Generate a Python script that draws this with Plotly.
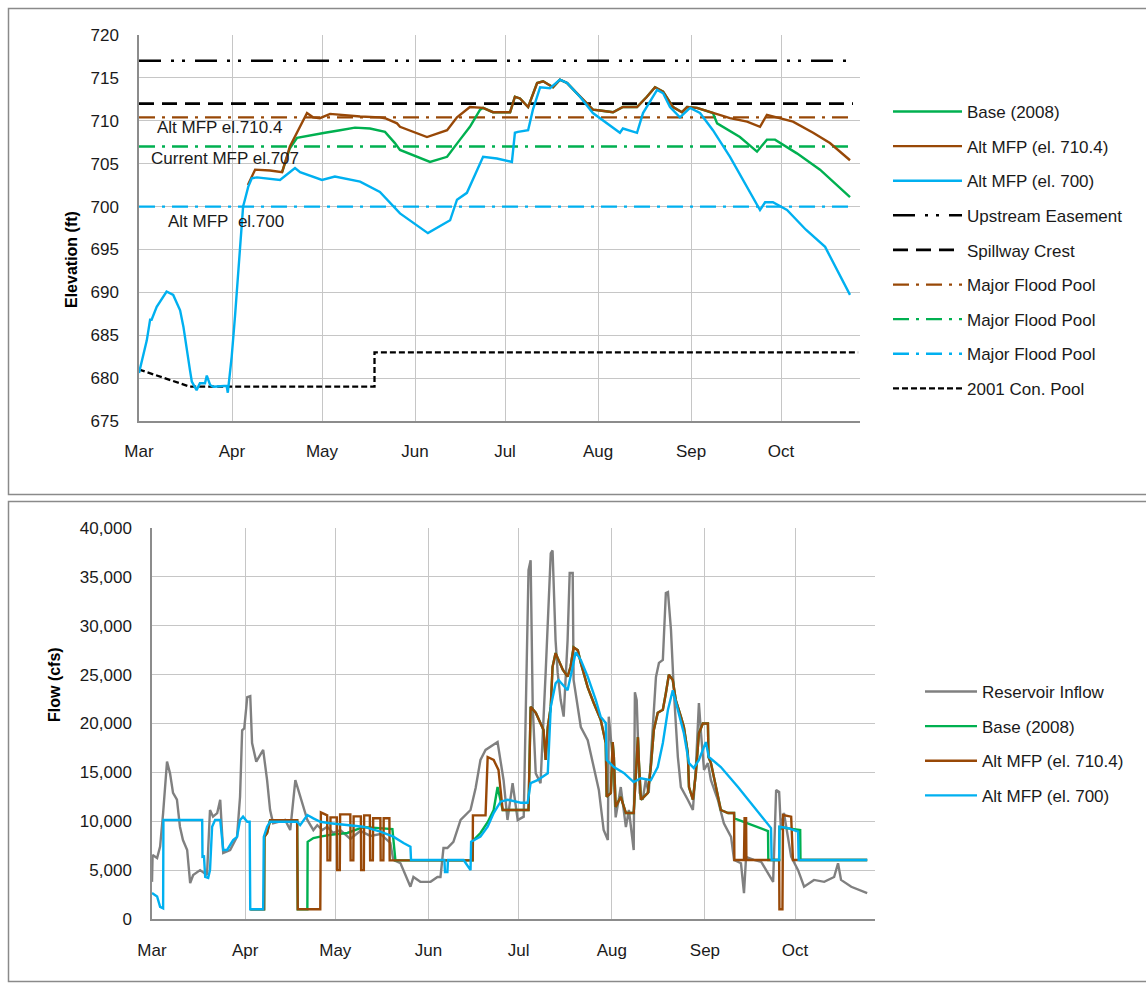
import pandas as pd
import plotly.graph_objects as go

# ---------------- data (days since 2008-03-01) ----------------
BASE_DATE = pd.Timestamp("2008-03-01")

# ---- Elevation panel ----
ELEV_700_DAY = [0, 2.6, 3.7, 4.2, 5.9, 9.2, 11.4, 13.7, 14.8, 15.9, 17, 17.6, 19.2, 20.3, 22, 22.6,
                23.7, 24.8, 29.2, 29.6, 30.9, 32, 33.1, 34.2, 34.7, 35.3, 36.4, 37.6, 39.3, 47,
                52, 53.7, 61, 65.3, 73.7, 80.3, 84.7, 87, 96.3, 103.7, 106, 109.3, 114.7,
                119.3, 124.3, 125.3, 126.3, 129.7, 131.3, 133.7, 137, 140.3, 142.7, 147, 151.3,
                156, 160.3, 161.3, 166, 168, 172.7, 174.7, 177, 180.3, 183.7, 187, 191.3, 197,
                202.7, 207, 208.7, 211.3, 216, 222.3, 228.7, 237]
ELEV_700 = [680.6, 684.4, 686.8, 686.8, 688.3, 690.1, 689.7, 687.9, 686.0, 683.7, 680.9, 679.6,
            678.6, 679.4, 679.4, 680.3, 679.2, 679.0, 679.1, 678.3, 682.5, 687.2, 692.6, 697.3,
            700.0, 700.8, 702.3, 703.3, 703.4, 703.1, 704.5, 704.0, 703.1, 703.5, 702.9, 701.7,
            700.0, 699.2, 696.9, 698.4, 700.8, 701.6, 705.8, 705.6, 705.2, 708.6, 708.7, 708.9,
            711.3, 713.9, 713.8, 714.8, 714.4, 712.8, 710.9, 709.7, 708.6, 709.1, 708.6, 710.9,
            713.6, 713.2, 711.6, 710.4, 711.5, 710.9, 708.9, 705.8, 702.3, 699.6, 700.5, 700.5,
            699.6, 697.3, 695.3, 689.7]

# Alt MFP 710.4 before it merges with Base
ELEV_7104_SPRING_DAY = [36.3, 38.7, 43.7, 47.7, 50.3, 53.7, 56, 58, 60.3, 63.7, 73.7, 80.3, 82, 86,
                        87, 96, 102.7, 106, 110.3]
ELEV_7104_SPRING = [702.5, 704.3, 704.2, 704.0, 707.0, 709.3, 710.9, 710.4, 710.3, 710.8, 710.5,
                    710.4, 710.3, 709.7, 709.3, 708.1, 708.9, 710.4, 711.6]
# Summer period where Base (2008) and Alt MFP 710.4 coincide
ELEV_SHARED_DAY = [114.7, 118, 123.7, 125.3, 127, 129.7, 132.7, 134.7, 138, 140.3, 142.7, 147, 151.3,
                   153.7, 158, 161.3, 166, 169.3, 172, 174.7, 178, 181, 182.7, 186, 191.3]
ELEV_SHARED = [711.5, 711.0, 711.0, 712.8, 712.6, 711.6, 714.4, 714.6, 713.9, 714.8, 714.4, 712.8,
               711.3, 711.2, 711.0, 711.6, 711.6, 712.8, 713.9, 713.4, 711.6, 711.0, 711.6, 711.5,
               710.9]
ELEV_7104_FALL_DAY = [192.7, 197, 202.7, 207, 209.3, 213.7, 218, 224.7, 230.3, 237]
ELEV_7104_FALL = [710.8, 710.3, 709.9, 709.3, 710.7, 710.3, 709.9, 708.6, 707.4, 705.4]

ELEV_BASE_SPRING_DAY = [47.7, 50.3, 52.7, 57, 62, 67, 72, 77, 82, 85.3, 87, 97, 102.7, 107, 110.3, 113.7]
ELEV_BASE_SPRING = [704.0, 706.8, 708.0, 708.3, 708.6, 708.9, 709.2, 709.1, 708.7, 707.4, 706.6,
                    705.2, 705.8, 707.8, 709.3, 711.3]
ELEV_BASE_FALL_DAY = [192.7, 200.3, 206, 209.3, 212, 219.3, 227, 237]
ELEV_BASE_FALL = [709.7, 708.1, 706.4, 707.8, 707.8, 706.2, 704.3, 701.1]

REF_DAY = [0, 238]
UPSTREAM_EASEMENT = 717.0
SPILLWAY_CREST = 712.0
MFP_7104 = 710.4
MFP_707 = 707.0
MFP_700 = 700.0

CON_POOL_DAY = [0, 17, 78.5, 78.5, 239.7]
CON_POOL = [681.0, 679.0, 679.0, 683.0, 683.0]

# ---- Flow panel ----
INFLOW_DAY = [0, 0.2, 1.7, 2.7, 3.7, 5, 6, 7, 8.3, 9.3, 10.3, 11.7, 12.7, 13.7, 16, 18.3, 19.3, 20.3,
              21.7, 22.7, 23.7, 26, 28.3, 29.3, 30, 30.7, 31.7, 32.7, 33.3, 34.7, 37, 38.3, 39.3,
              40.3, 44.3, 46, 47.7, 49.3, 50.3, 51.7, 53.7, 55, 56.7, 58.3, 60.3, 62.7, 66, 69.3,
              72.7, 76, 79.3, 80.3, 82.7, 85, 86, 87, 89.3, 92.7, 95, 96, 97, 98.3, 100.3, 102.7,
              106, 107.7, 109.3, 111, 115, 117, 118.3, 120, 121.7, 123.7, 124.3, 125.3, 126,
              126.7, 127.7, 129.3, 131, 131.7, 132.7, 133.3, 133.7, 134.3, 135, 136, 137, 138.3,
              139, 140, 140.3, 142.7, 145, 147, 148.7, 150.3, 151.7, 152, 153.3, 154.3, 156,
              157.7, 158.7, 160.3, 160.7, 161.3, 162.3, 163.3, 164.3, 165.3, 166.7, 167.7, 168.7,
              170, 171, 171.7, 172.7, 173.7, 175, 176, 178.3, 180, 181, 182, 182.7, 183.7, 185,
              186, 188.3, 190.3, 192.7, 193.7, 196, 197, 197.7, 200.3, 202.7, 205, 206.7, 207.7,
              208.7, 209.3, 210.3, 212.7, 215, 217, 220.3, 223.7, 227, 228.3, 229.3, 232.7, 235,
              238]
INFLOW = [3800, 6550, 6240, 7400, 10840, 16100, 14900, 12900, 12200, 9440, 8080, 7060, 3680, 4500,
          5000, 4500, 11150, 10470, 10840, 12200, 6750, 7060, 8420, 12500, 19300, 19500, 22700,
          22800, 18000, 16100, 17300, 14200, 11150, 9800, 10130, 9100, 14200, 12500, 11500, 10130,
          9100, 9600, 9100, 9440, 8800, 9100, 8200, 9000, 8500, 8700, 7800, 6040, 5700, 4000, 3300,
          4300, 3800, 3800, 4300, 4300, 7260, 7260, 7900, 10130, 11150, 13400, 16270, 17300, 18100,
          14200, 10130, 13900, 10130, 10470, 19330, 35700, 36700, 21700, 14900, 13900, 25200,
          30300, 37400, 37700, 33650, 28500, 25200, 22400, 20700, 28500, 35400, 35400, 24450,
          19640, 18300, 15550, 13200, 9100, 8080, 20700, 16570, 10400, 13500, 9400, 11150, 7060,
          23200, 22400, 12900, 12200, 14200, 12900, 19600, 24750, 26200, 26500, 33350, 33450,
          29600, 23100, 16570, 13500, 12200, 11150, 15550, 22100, 19000, 15250, 15950, 14200,
          12200, 9800, 8400, 6040, 5700, 2650, 6350, 6040, 5860, 4700, 3800, 13200, 13000, 9100,
          10840, 6370, 5000, 3300, 4000, 3800, 4300, 5700, 4000, 3300, 3000, 2650]

FLOW_700_DAY = [0, 1.7, 2.7, 3.7, 3.8, 16.7, 16.8, 17.3, 17.7, 18.7, 19.3, 20, 21, 22.7, 23.7, 25,
                27, 28.3, 29.3, 30.3, 31.7, 32.5, 32.7, 37, 37.2, 38.3, 39.3, 48.3, 49.3, 51.7,
                53.7, 56, 59.3, 65, 70.3, 76, 80.3, 83.7, 86, 86.2, 97.3, 97.5, 98.3, 98.5, 103.7,
                106, 106.2, 109.3, 111.7, 113.7, 116, 118.3, 122.7, 125, 126, 128.3, 131.7, 132.7,
                134.3, 135.3, 138.3, 140, 141, 142.7, 145, 147.7, 149.3, 151, 151.3, 153.7, 157,
                160.3, 162.7, 166, 168.3, 170, 171.7, 173.3, 175, 177, 178.7, 180.3, 182, 184.3,
                185.3, 189.3, 195, 200.3, 206, 206.2, 208.7, 208.8, 211.7, 215, 215.2, 238]
FLOW_700 = [2650, 2300, 1250, 1100, 10130, 10130, 6370, 6400, 4300, 4200, 5000, 9440, 10130, 10130,
            7060, 7060, 8080, 8400, 10130, 10470, 9950, 9950, 1000, 1000, 8400, 9440, 9950, 9950,
            9600, 10640, 10300, 9950, 9800, 9600, 9440, 8930, 8420, 7770, 7400, 6040, 6040, 4800,
            4800, 6040, 6040, 5000, 7900, 8420, 9440, 10840, 12000, 12200, 11900, 11900, 13900,
            14200, 14900, 21700, 24100, 24450, 23400, 25800, 27300, 26500, 24800, 22400, 20700,
            20050, 16270, 15550, 14950, 14000, 14400, 14200, 15550, 18000, 21400, 23400, 21400,
            19000, 15950, 15450, 16270, 18100, 16570, 15550, 13500, 11450, 9300, 6040, 6040, 9440,
            9300, 8930, 6040, 6040]

FLOW_7104_SPRING_DAY = [32.7, 37.3, 37.4, 38.3, 39.3, 48.3, 48.5, 56, 56.2, 58.3, 58.4, 59.3, 59.4,
                        61.5, 61.6, 62.5, 62.6, 66, 66.1, 67, 67.1, 69.5, 69.6, 70.5, 70.6, 72.5,
                        72.6, 73.5, 73.6, 76, 76.1, 77, 77.1, 79, 79.1, 85.3, 106.7, 106.8, 111,
                        111.7, 113.7, 115.3, 116]
FLOW_7104_SPRING = [1000, 1000, 8400, 8800, 10100, 10100, 1000, 1000, 10900, 10600, 6000, 6000,
                    10400, 10400, 5000, 5000, 10700, 10700, 6000, 6000, 10500, 10500, 5000, 5000,
                    10600, 10600, 6000, 6000, 10300, 10300, 6000, 6000, 10300, 10300, 6000, 6000,
                    6000, 10600, 10600, 16570, 16270, 15250, 13500]
FLOW_BASE_SPRING_DAY = [32.7, 37.3, 37.4, 38.3, 39.3, 48.3, 48.5, 51.7, 51.8, 53.7, 56, 59.3, 65,
                        69.3, 71, 80, 81, 85.3, 106.7, 106.8, 109.3, 111.7, 113.7, 115]
FLOW_BASE_SPRING = [1000, 1000, 8400, 8800, 10100, 10100, 1000, 1000, 7900, 8280, 8420, 8600, 8800,
                    9300, 9400, 9200, 6000, 6000, 6000, 8000, 8800, 9900, 11150, 13500]
# Period where Base (2008) and Alt MFP 710.4 releases coincide
FLOW_SHARED_DAY = [116.7, 125.3, 126, 127.7, 129.3, 130.3, 131, 131.7, 132.7, 133.3, 134.3, 135.3,
                   136.7, 138.3, 139.3, 140.3, 141.7, 142.7, 145, 147, 149.3, 151, 151.3, 152.7,
                   153.3, 153.7, 154.3, 156, 157.7, 160.3, 161.7, 162, 162.7, 163.7, 165, 166, 167,
                   168.3, 170, 171, 172, 173.3, 174.3, 176, 177, 178.3, 178.7, 180, 181, 182, 183.3,
                   185, 185.2, 186, 187.7, 189.3, 191.7, 193.7]
FLOW_SHARED = [11150, 11150, 21700, 21100, 20100, 19330, 16270, 19600, 21700, 25800, 27200, 26500,
               25500, 24800, 25800, 27800, 27500, 26200, 23700, 22100, 20400, 18000, 12500, 12900,
               18100, 16570, 11450, 12500, 10840, 10840, 18600, 16270, 12200, 12500, 12900, 15550,
               19330, 21100, 21400, 23100, 25000, 24450, 22400, 20700, 19650, 17000, 13500, 12200,
               14950, 19000, 20000, 20000, 16570, 15950, 13500, 11150, 10840, 10840]
FLOW_7104_FALL_DAY = [193.8, 197, 197.2, 197.7, 197.8, 208.7, 208.8, 209.8, 210, 212.7, 213.3, 238]
FLOW_7104_FALL = [6040, 6040, 10300, 10300, 6040, 6040, 1000, 1000, 10640, 10470, 6040, 6040]
FLOW_BASE_FALL_DAY = [193.8, 200.3, 205, 205.1, 208.7, 208.8, 215.7, 215.8, 238]
FLOW_BASE_FALL = [10300, 9500, 9000, 6040, 6040, 9400, 9100, 6040, 6040]

# ---------------- styling ----------------
W, H = 1146, 983
FONT = "Liberation Sans, Arial, sans-serif"
TXT = "#1a1a1a"
GREEN = "#00B050"
BROWN = "#984807"
BLUE = "#00B0F0"
GRAY = "#808080"
GRID = "#C6C6C6"
AXIS = "#8C8C8C"
FS = 17


def dates(days):
    return BASE_DATE + pd.to_timedelta(pd.Series(days, dtype=float), unit="D")


def fx(p):
    return p / W


def fy(p):
    return 1 - p / H


fig = go.Figure()


def add(days, vals, name, color, width, rank, dash="solid", xa="x", ya="y", legend="legend"):
    fig.add_trace(go.Scatter(
        x=dates(days), y=vals, mode="lines", name=name,
        line=dict(color=color, width=width, dash=dash),
        xaxis=xa, yaxis=ya, legend=legend, legendgroup=f"{legend}_{rank}", legendrank=rank,
        hoverinfo="skip"))


# Top panel traces (drawing order: refs first, then Base, 710.4, 700)
add(REF_DAY, [UPSTREAM_EASEMENT] * 2, "Upstream Easement", "#000000", 2.5, 4,
    "22px,10px,3px,8px,3px,10px")
add(REF_DAY, [SPILLWAY_CREST] * 2, "Spillway Crest", "#000000", 2.8, 5, "15px,8px")
add(REF_DAY, [MFP_7104] * 2, "Major Flood Pool", BROWN, 2.3, 6, "16px,7px,3px,7px")
add(REF_DAY, [MFP_707] * 2, "Major Flood Pool", GREEN, 2.3, 7, "16px,7px,3px,7px")
add(REF_DAY, [MFP_700] * 2, "Major Flood Pool", BLUE, 2.3, 8, "16px,7px,3px,7px")
add(CON_POOL_DAY, CON_POOL, "2001 Con. Pool", "#000000", 2.3, 9, "6px,3px")
add(ELEV_BASE_SPRING_DAY + ELEV_SHARED_DAY + ELEV_BASE_FALL_DAY,
    ELEV_BASE_SPRING + ELEV_SHARED + ELEV_BASE_FALL, "Base (2008)", GREEN, 2.4, 1)
add(ELEV_7104_SPRING_DAY + ELEV_SHARED_DAY + ELEV_7104_FALL_DAY,
    ELEV_7104_SPRING + ELEV_SHARED + ELEV_7104_FALL, "Alt MFP (el. 710.4)", BROWN, 2.4, 2)
add(ELEV_700_DAY, ELEV_700, "Alt MFP (el. 700)", BLUE, 2.4, 3)

# Bottom panel traces
add(INFLOW_DAY, INFLOW, "Reservoir Inflow", GRAY, 2.4, 1, xa="x2", ya="y2", legend="legend2")
add(FLOW_BASE_SPRING_DAY + FLOW_SHARED_DAY + FLOW_BASE_FALL_DAY,
    FLOW_BASE_SPRING + FLOW_SHARED + FLOW_BASE_FALL, "Base (2008)", GREEN, 2.4, 2,
    xa="x2", ya="y2", legend="legend2")
add(FLOW_7104_SPRING_DAY + FLOW_SHARED_DAY + FLOW_7104_FALL_DAY,
    FLOW_7104_SPRING + FLOW_SHARED + FLOW_7104_FALL, "Alt MFP (el. 710.4)", BROWN, 2.4, 3,
    xa="x2", ya="y2", legend="legend2")
add(FLOW_700_DAY, FLOW_700, "Alt MFP (el. 700)", BLUE, 2.4, 4, xa="x2", ya="y2", legend="legend2")

tickfont = dict(family=FONT, size=FS, color=TXT)
xcommon = dict(type="date", tickformat="%b", dtick="M1", tick0="2008-03-01", showgrid=True,
               gridcolor=GRID, gridwidth=1.3, showline=True, linecolor=AXIS, linewidth=1.5,
               ticks="", tickfont=tickfont, zeroline=False)
ycommon = dict(showgrid=True, gridcolor=GRID, gridwidth=1.3, showline=True, linecolor=AXIS,
               linewidth=1.5, ticks="", tickfont=tickfont, zeroline=False, ticklabelstandoff=15)
legcommon = dict(xanchor="left", yanchor="top", bgcolor="rgba(0,0,0,0)",
                 font=dict(family=FONT, size=FS, color=TXT), tracegroupgap=9.5,
                 traceorder="grouped")

fig.update_layout(
    width=W, height=H, margin=dict(l=0, r=0, t=0, b=0, autoexpand=False),
    paper_bgcolor="white", plot_bgcolor="white",
    font=dict(family=FONT, size=FS, color=TXT),
    xaxis=dict(xcommon, domain=[fx(139), fx(860)], anchor="y", ticklabelstandoff=14,
               range=[BASE_DATE, BASE_DATE + pd.Timedelta(days=240.33)]),
    yaxis=dict(ycommon, domain=[fy(421), fy(35)], anchor="x", range=[675, 720], dtick=5),
    xaxis2=dict(xcommon, domain=[fx(152), fx(875)], anchor="y2", ticklabelstandoff=15,
                range=[BASE_DATE, BASE_DATE + pd.Timedelta(days=240.6)]),
    yaxis2=dict(ycommon, domain=[fy(919), fy(528)], anchor="x2", range=[0, 40000], dtick=5000,
                tickformat=",d"),
    legend=dict(legcommon, x=fx(888), y=fy(94), itemwidth=69),
    legend2=dict(legcommon, x=fx(920), y=fy(674), itemwidth=52),
    showlegend=True,
)

# panel borders
fig.add_shape(type="rect", xref="paper", yref="paper", x0=fx(8.5), x1=fx(1152), y0=fy(494.5),
              y1=fy(8.5), line=dict(color="#8A8A8A", width=1.5), layer="below")
fig.add_shape(type="rect", xref="paper", yref="paper", x0=fx(8.5), x1=fx(1152), y0=fy(981.5),
              y1=fy(501.5), line=dict(color="#8A8A8A", width=1.5), layer="below")

# axis titles
fig.add_annotation(text="<b>Elevation (ft)</b>", xref="paper", yref="paper", x=fx(61), y=fy(209),
                   textangle=-90, showarrow=False, font=dict(family=FONT, size=16, color="#000"))
fig.add_annotation(text="<b>Flow (cfs)</b>", xref="paper", yref="paper", x=fx(44), y=fy(724),
                   textangle=-90, showarrow=False, font=dict(family=FONT, size=16, color="#000"))

# in-plot labels
for txt, x, y in [("Alt MFP el.710.4", 155, 127), ("Current MFP el.707", 149, 158),
                  ("Alt MFP\u00a0 el.700", 166, 221)]:
    fig.add_annotation(text=txt, xref="paper", yref="paper", x=fx(x), y=fy(y), xanchor="left",
                       yanchor="middle", showarrow=False, font=dict(family=FONT, size=FS, color=TXT))

fig.write_html("out.html")
